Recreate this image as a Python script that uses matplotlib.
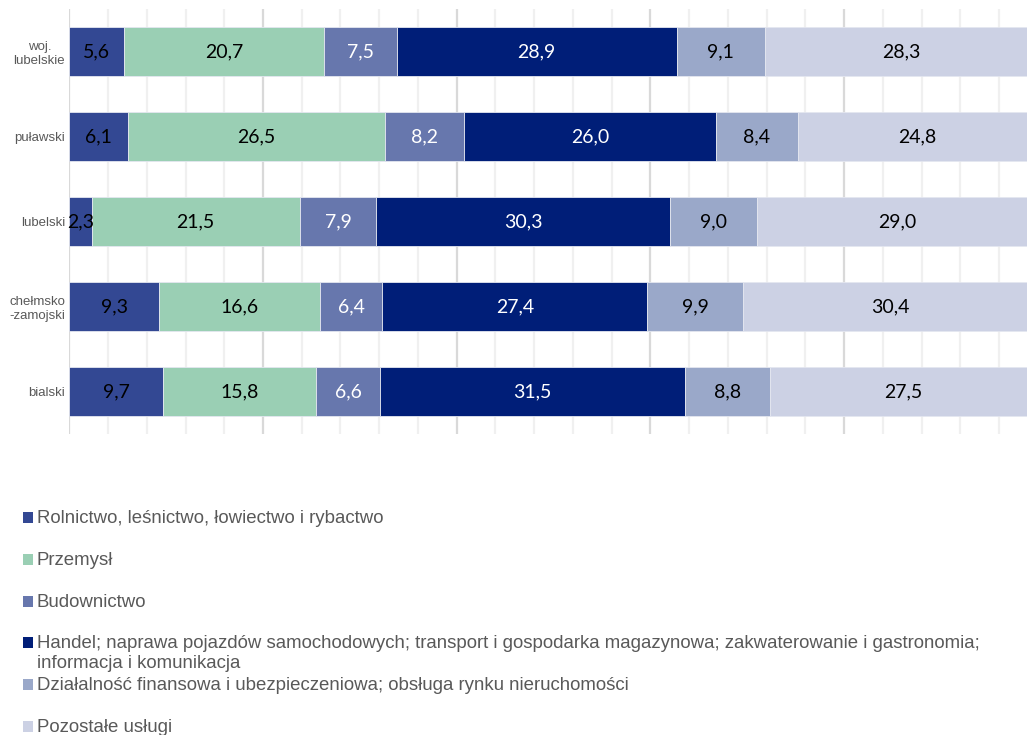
import matplotlib.pyplot as plt
from matplotlib.patches import Rectangle
from matplotlib.ticker import MultipleLocator

W, H = 1027, 735

REGIONS = ["woj.\nlubelskie", "puławski", "lubelski", "chełmsko\n-zamojski", "bialski"]

SECTORS = [
    "Rolnictwo, leśnictwo, łowiectwo i rybactwo",
    "Przemysł",
    "Budownictwo",
    "Handel; naprawa pojazdów samochodowych; transport i gospodarka magazynowa; zakwaterowanie i gastronomia;\ninformacja i komunikacja",
    "Działalność finansowa i ubezpieczeniowa; obsługa rynku nieruchomości",
    "Pozostałe usługi",
]

rolnictwo = [5.6, 6.1, 2.3, 9.3, 9.7]
przemysl = [20.7, 26.5, 21.5, 16.6, 15.8]
budownictwo = [7.5, 8.2, 7.9, 6.4, 6.6]
handel = [28.9, 26.0, 30.3, 27.4, 31.5]
finanse = [9.1, 8.4, 9.0, 9.9, 8.8]
pozostale = [28.3, 24.8, 29.0, 30.4, 27.5]

SERIES = [rolnictwo, przemysl, budownictwo, handel, finanse, pozostale]
COLORS = ["#334893", "#9acfb4", "#6777ad", "#001e78", "#9aa8c9", "#ccd1e4"]
LABEL_COLORS = ["black", "black", "white", "white", "black", "black"]


def main():
    fig = plt.figure(figsize=(W / 100, H / 100), dpi=100)
    left = 69.3 / W
    right = (69.3 + 968.5) / W
    ax = fig.add_axes([left, 1 - 434 / H, right - left, 425 / H])

    ypos = list(range(len(REGIONS)))
    start = [0.0] * len(REGIONS)
    for vals, color, tcol in zip(SERIES, COLORS, LABEL_COLORS):
        bars = ax.barh(ypos, vals, left=start, height=0.565, color=color,
                       edgecolor="#e4e7f0", linewidth=0.6, zorder=3)
        for bar, v in zip(bars, vals):
            ax.text(bar.get_x() + bar.get_width() / 2, bar.get_y() + bar.get_height() / 2,
                    f"{v:.1f}".replace(".", ","), ha="center", va="center",
                    color=tcol, fontsize=14, family="Lato", zorder=4)
        start = [s + v for s, v in zip(start, vals)]

    ax.set_xlim(0, 100)
    ax.set_ylim(4.5, -0.5)
    ax.xaxis.set_major_locator(MultipleLocator(20))
    ax.xaxis.set_minor_locator(MultipleLocator(4))
    ax.grid(axis="x", which="major", color="#d9d9d9", linewidth=1.6, zorder=0)
    ax.grid(axis="x", which="minor", color="#f0f0f0", linewidth=1.6, zorder=0)
    ax.tick_params(axis="x", which="both", length=0, labelbottom=False)
    ax.tick_params(axis="y", length=0, pad=3)
    ax.set_yticks(ypos)
    ax.set_yticklabels(REGIONS, fontsize=9.5, color="#595959", family="Liberation Sans",
                       multialignment="center")
    for s in ax.spines.values():
        s.set_visible(False)

    # legend, one row per sector
    baselines = [523, 565, 607, 648, 690, 732]
    for label, color, yb in zip(SECTORS, COLORS, baselines):
        fig.add_artist(Rectangle((22.7 / W, 1 - yb / H), 10 / W, 11 / H,
                                 transform=fig.transFigure, color=color, lw=0))
        lines = label.split("\n")
        for i, line in enumerate(lines):
            fig.text(37 / W, 1 - (yb + 20 * i) / H, line, ha="left", va="baseline",
                     fontsize=13.4, color="#595959", family="Liberation Sans")

    fig.savefig("out.png", dpi=100)


if __name__ == "__main__":
    main()
